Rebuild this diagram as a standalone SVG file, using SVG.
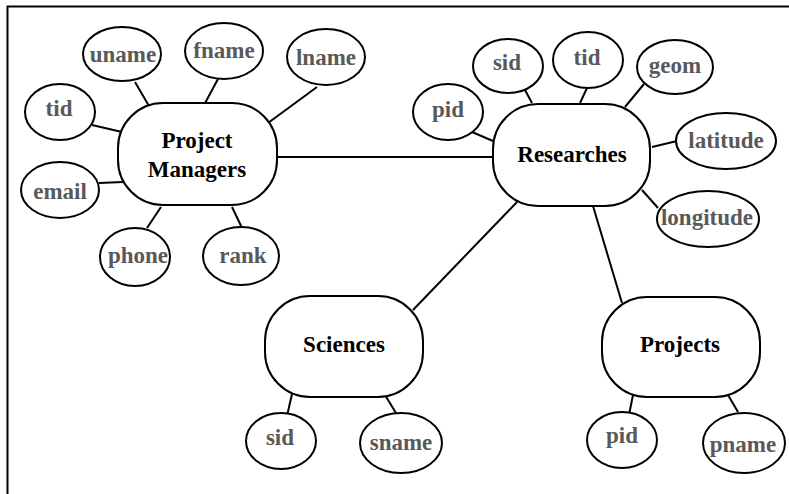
<svg xmlns="http://www.w3.org/2000/svg" width="789" height="494" viewBox="0 0 789 494">
<style>
.ent{fill:#fff;stroke:#000;stroke-width:2}
.att{fill:#fff;stroke:#000;stroke-width:2}
.et{font-family:"Liberation Serif",serif;font-weight:bold;font-size:23px;fill:#000;text-anchor:middle}
.at{font-family:"Liberation Serif",serif;font-weight:bold;font-size:23px;fill:#595959;text-anchor:middle}
.ln{stroke:#000;stroke-width:2;fill:none}
</style>
<rect width="789" height="494" fill="#fff"/>
<path d="M7.5,494 V6.5 H789" fill="none" stroke="#000" stroke-width="2"/>
<g id="connectors" class="ln">
<line x1="135" y1="82" x2="149" y2="106"/>
<line x1="218" y1="79" x2="204" y2="105"/>
<line x1="317" y1="87" x2="268" y2="123"/>
<line x1="92" y1="125" x2="122" y2="132"/>
<line x1="99" y1="183" x2="123" y2="182"/>
<line x1="147" y1="228" x2="161" y2="207"/>
<line x1="242" y1="228" x2="232" y2="207"/>
<line x1="277" y1="157" x2="493" y2="157"/>
<line x1="472" y1="132" x2="493" y2="141"/>
<line x1="525" y1="90" x2="532" y2="103"/>
<line x1="587" y1="88" x2="580" y2="103"/>
<line x1="644" y1="84" x2="625" y2="107"/>
<line x1="652" y1="147" x2="677" y2="141"/>
<line x1="642" y1="190" x2="658" y2="208"/>
<line x1="517" y1="202" x2="413" y2="310"/>
<line x1="593" y1="206" x2="622" y2="303"/>
<line x1="292" y1="394" x2="287" y2="416"/>
<line x1="385" y1="395" x2="396" y2="413"/>
<line x1="633" y1="395" x2="629" y2="415"/>
<line x1="728" y1="395" x2="738" y2="412"/>
</g>
<g id="project-managers"><rect class="ent" x="118" y="103" width="159" height="102" rx="45" ry="45"/><text class="et" x="197" y="148">Project</text><text class="et" x="197" y="177">Managers</text></g>
<g id="pm-uname"><ellipse class="att" cx="122" cy="54" rx="39" ry="27"/><text class="at" x="123" y="62">uname</text></g>
<g id="pm-fname"><ellipse class="att" cx="224" cy="51" rx="39" ry="28"/><text class="at" x="224" y="58">fname</text></g>
<g id="pm-lname"><ellipse class="att" cx="326" cy="57" rx="39" ry="28"/><text class="at" x="326" y="65">lname</text></g>
<g id="pm-tid"><ellipse class="att" cx="60" cy="112" rx="35" ry="28"/><text class="at" x="59" y="116">tid</text></g>
<g id="pm-email"><ellipse class="att" cx="60" cy="190" rx="39" ry="28"/><text class="at" x="60" y="199">email</text></g>
<g id="pm-phone"><ellipse class="att" cx="135" cy="257" rx="35" ry="29"/><text class="at" x="138" y="263">phone</text></g>
<g id="pm-rank"><ellipse class="att" cx="241" cy="256" rx="38" ry="29"/><text class="at" x="243" y="263">rank</text></g>
<g id="researches"><rect class="ent" x="493" y="104" width="157" height="102" rx="45" ry="45"/><text class="et" x="572" y="162">Researches</text></g>
<g id="r-pid"><ellipse class="att" cx="448" cy="112" rx="35" ry="28"/><text class="at" x="448" y="117">pid</text></g>
<g id="r-sid"><ellipse class="att" cx="508" cy="66" rx="35" ry="27"/><text class="at" x="507" y="70">sid</text></g>
<g id="r-tid"><ellipse class="att" cx="588" cy="60" rx="35" ry="28"/><text class="at" x="587" y="65">tid</text></g>
<g id="r-geom"><ellipse class="att" cx="675" cy="67" rx="38" ry="27"/><text class="at" x="675" y="73">geom</text></g>
<g id="r-latitude"><ellipse class="att" cx="726" cy="141" rx="50" ry="28"/><text class="at" x="726" y="148">latitude</text></g>
<g id="r-longitude"><ellipse class="att" cx="708" cy="219" rx="51" ry="28"/><text class="at" x="707" y="225">longitude</text></g>
<g id="sciences"><rect class="ent" x="265" y="296" width="158" height="101" rx="45" ry="45"/><text class="et" x="344" y="352">Sciences</text></g>
<g id="s-sid"><ellipse class="att" cx="281" cy="441" rx="35" ry="28"/><text class="at" x="280" y="445">sid</text></g>
<g id="s-sname"><ellipse class="att" cx="401" cy="443" rx="41" ry="30"/><text class="at" x="401" y="450">sname</text></g>
<g id="projects"><rect class="ent" x="602" y="297" width="158" height="100" rx="45" ry="45"/><text class="et" x="680" y="352">Projects</text></g>
<g id="p-pid"><ellipse class="att" cx="622" cy="440" rx="35" ry="28"/><text class="at" x="622" y="443">pid</text></g>
<g id="p-pname"><ellipse class="att" cx="744" cy="443" rx="41" ry="30"/><text class="at" x="743" y="452">pname</text></g>
</svg>
